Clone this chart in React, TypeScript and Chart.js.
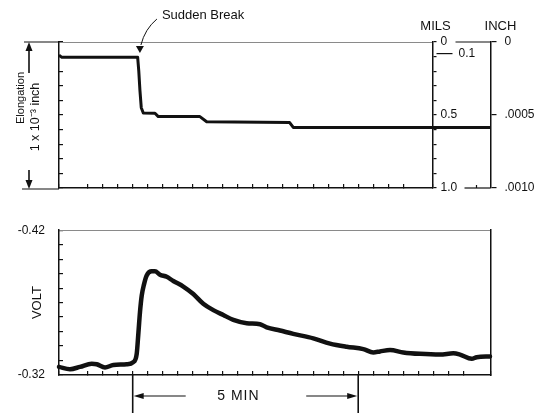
import React, { useEffect, useRef } from 'react';
import { Chart, registerables } from 'chart.js';

Chart.register(...registerables);

// ---- Data (time in minutes, 0 = start of the 5 MIN marker) ----
const elongTime = [-1.634, -1.57, 0.11, 0.135, 0.16, 0.19, 0.235, 0.494, 0.568, 1.49, 1.64, 3.48, 3.56, 7.937];
const elongMils = [0.09, 0.105, 0.105, 0.2, 0.33, 0.45, 0.486, 0.488, 0.511, 0.511, 0.546, 0.552, 0.585, 0.585];

const voltTime = [
  -1.634, -1.39, -1.169, -0.909, -0.798, -0.614, -0.43, -0.133, 0.013, 0.089, 0.124, 0.162, 0.2, 0.251,
  0.31, 0.421, 0.494, 0.605, 0.754, 0.9, 1.122, 1.344, 1.565, 1.787, 2.009, 2.231, 2.528, 2.823, 2.971,
  3.266, 3.561, 4.004, 4.375, 4.745, 5.113, 5.335, 5.483, 5.705, 6.0, 6.37, 6.814, 7.109, 7.257, 7.517,
  7.627, 7.922,
];
const voltValue = [
  -0.3256, -0.324, -0.3256, -0.3278, -0.3274, -0.3252, -0.3269, -0.3274, -0.3289, -0.3346, -0.348,
  -0.3636, -0.3748, -0.3826, -0.3887, -0.3916, -0.3916, -0.3893, -0.3878, -0.3849, -0.3811, -0.3759,
  -0.3692, -0.3648, -0.3614, -0.3581, -0.3558, -0.3551, -0.3529, -0.3507, -0.3484, -0.3453, -0.3417,
  -0.3395, -0.3379, -0.3356, -0.3363, -0.3372, -0.3356, -0.3346, -0.3341, -0.335, -0.3341, -0.3312,
  -0.3323, -0.3328,
];

const milsTickValues = [0, 0.5, 1];
const milsTickLabels = ['0', '0.5', '1.0'];
const inchTickValues = [0, 0.0005, 0.001];
const inchTickLabels = ['0', '.0005', '.0010'];
const voltTickValues = [-0.42, -0.32];
const voltTickLabels = ['-0.42', '-0.32'];

const TIME_MIN = -1.634;
const TOP_TIME_MAX = 6.647;
const BOTTOM_TIME_MAX = 7.933;
const SUDDEN_BREAK_T = 0.16;
const MARK_START = 0;
const MARK_SPAN = 5;

const FONT = "'Liberation Sans', Arial, Helvetica, sans-serif";
const INK = '#111';
const FAINT = '#8a8a8a';

function labelFor(values: number[], labels: string[], v: number, tol: number) {
  const k = values.findIndex((m) => Math.abs(m - v) < tol);
  return k >= 0 ? labels[k] : '';
}

function seg(ctx: CanvasRenderingContext2D, x1: number, y1: number, x2: number, y2: number) {
  ctx.beginPath();
  ctx.moveTo(x1, y1);
  ctx.lineTo(x2, y2);
  ctx.stroke();
}

function head(ctx: CanvasRenderingContext2D, tx: number, ty: number, dir: 'up' | 'down' | 'left' | 'right', len = 9, half = 3.2) {
  ctx.beginPath();
  ctx.moveTo(tx, ty);
  if (dir === 'up') { ctx.lineTo(tx - half, ty + len); ctx.lineTo(tx + half, ty + len); }
  if (dir === 'down') { ctx.lineTo(tx - half, ty - len); ctx.lineTo(tx + half, ty - len); }
  if (dir === 'left') { ctx.lineTo(tx + len, ty - half); ctx.lineTo(tx + len, ty + half); }
  if (dir === 'right') { ctx.lineTo(tx - len, ty - half); ctx.lineTo(tx - len, ty + half); }
  ctx.closePath();
  ctx.fill();
}

const topAnnotations = {
  id: 'topAnnotations',
  afterDraw(chart: any) {
    const ctx: CanvasRenderingContext2D = chart.ctx;
    const ca = chart.chartArea;
    const xs = chart.scales.x;
    const ym = chart.scales.ym;
    const yi = chart.scales.yi;
    ctx.save();
    ctx.strokeStyle = INK;
    ctx.fillStyle = INK;
    ctx.lineWidth = 1.2;

    // axis headers
    ctx.font = `13px ${FONT}`;
    ctx.textAlign = 'center';
    ctx.textBaseline = 'middle';
    ctx.fillText('MILS', ym.left + 3, ca.top - 16);
    ctx.fillText('INCH', yi.left + 10, ca.top - 16);

    // 0.1 leader label
    const y01 = ym.getPixelForValue(0.1) - 3;
    seg(ctx, ym.left + 4, y01, ym.left + 20, y01);
    ctx.font = `12px ${FONT}`;
    ctx.textAlign = 'left';
    ctx.fillText('0.1', ym.left + 26, y01);

    // connecting lines between the two scales
    seg(ctx, ym.left + 23, ca.top, yi.left, ca.top);
    seg(ctx, ym.left + 32, ca.bottom, yi.left, ca.bottom);
    seg(ctx, ym.left + 44, ca.bottom, ym.left + 44, ca.bottom - 3);

    // Sudden Break
    const bx = xs.getPixelForValue(SUDDEN_BREAK_T);
    ctx.font = `13px ${FONT}`;
    ctx.textAlign = 'left';
    ctx.fillText('Sudden Break', bx + 22, ca.top - 27);
    ctx.lineWidth = 1;
    ctx.beginPath();
    ctx.moveTo(bx + 17, ca.top - 23);
    ctx.quadraticCurveTo(bx + 5, ca.top - 13, bx + 1, ca.top + 3);
    ctx.stroke();
    head(ctx, bx, ca.top + 11, 'down', 7, 4);

    // left dimension arrows
    ctx.lineWidth = 1.2;
    const ax = 29;
    seg(ctx, 24, ca.top, ca.left, ca.top);
    seg(ctx, 22, ca.bottom + 1, ca.left, ca.bottom + 1);
    ctx.lineWidth = 1.6;
    seg(ctx, ax, ca.top + 31, ax, ca.top + 6);
    head(ctx, ax, ca.top, 'up', 9, 3.5);
    seg(ctx, ax, ca.bottom - 18, ax, ca.bottom - 6);
    head(ctx, ax, ca.bottom + 1, 'down', 9, 3.5);

    // rotated axis description
    ctx.textAlign = 'center';
    ctx.save();
    ctx.translate(21, ca.top + 56);
    ctx.rotate(-Math.PI / 2);
    ctx.font = `11px ${FONT}`;
    ctx.fillText('Elongation', 0, 0);
    ctx.restore();
    ctx.save();
    ctx.translate(36, ca.top + 75);
    ctx.rotate(-Math.PI / 2);
    ctx.font = `12.5px ${FONT}`;
    ctx.fillText('1 x 10⁻³ inch', 0, 0);
    ctx.restore();

    ctx.restore();
  },
};

const bottomAnnotations = {
  id: 'bottomAnnotations',
  afterDraw(chart: any) {
    const ctx: CanvasRenderingContext2D = chart.ctx;
    const ca = chart.chartArea;
    const xs = chart.scales.x;
    const x0 = xs.getPixelForValue(MARK_START);
    const x1 = xs.getPixelForValue(MARK_START + MARK_SPAN);
    ctx.save();
    ctx.strokeStyle = INK;
    ctx.fillStyle = INK;
    ctx.lineWidth = 1.6;
    seg(ctx, x0, ca.bottom, x0, chart.height);
    seg(ctx, x1, ca.bottom, x1, chart.height);
    const ay = ca.bottom + 21;
    ctx.lineWidth = 1.2;
    seg(ctx, x0 + 4, ay, x0 + 53, ay);
    head(ctx, x0 + 1, ay, 'left', 10, 3);
    seg(ctx, x1 - 52, ay, x1 - 4, ay);
    head(ctx, x1 - 1, ay, 'right', 10, 3);
    ctx.font = `14px ${FONT}`;
    (ctx as any).letterSpacing = '1px';
    ctx.textAlign = 'center';
    ctx.textBaseline = 'middle';
    ctx.fillText('5 MIN', (x0 + x1) / 2 - 7, ay);
    ctx.restore();
  },
};

function innerTicks(len: number) {
  return { drawOnChartArea: false, tickLength: len, color: INK, lineWidth: 1.2 };
}

function makeTopConfig(): any {
  return {
    type: 'line',
    data: {
      datasets: [
        {
          data: elongTime.map((t, i) => ({ x: t, y: elongMils[i] })),
          borderColor: INK,
          borderWidth: 3,
          pointRadius: 0,
          tension: 0,
          clip: false,
          xAxisID: 'x',
          yAxisID: 'y',
          borderJoinStyle: 'round',
        },
      ],
    },
    options: {
      responsive: false,
      animation: false,
      events: [],
      layout: { padding: { left: 0, top: 42, right: 0, bottom: 17 } },
      plugins: { legend: { display: false }, tooltip: { enabled: false } },
      scales: {
        x: {
          type: 'linear', position: 'bottom', min: TIME_MIN, max: TOP_TIME_MAX,
          ticks: { display: false, stepSize: 1 / 3, autoSkip: false },
          grid: innerTicks(-4),
          border: { color: INK, width: 1.5 },
          afterFit: (s: any) => { s.height = 0; },
        },
        xt: {
          type: 'linear', position: 'top', min: TIME_MIN, max: TOP_TIME_MAX,
          ticks: { display: false },
          grid: { drawOnChartArea: false, drawTicks: false },
          border: { color: FAINT, width: 1, dash: [8, 3] },
          afterFit: (s: any) => { s.height = 0; },
        },
        y: {
          type: 'linear', position: 'left', min: 0, max: 1, reverse: true,
          ticks: { display: false, stepSize: 0.1, autoSkip: false },
          grid: innerTicks(-4),
          border: { color: INK, width: 1.5 },
          afterFit: (s: any) => { s.width = 59; },
        },
        ym: {
          type: 'linear', position: 'right', min: 0, max: 1, reverse: true, weight: 0,
          ticks: {
            stepSize: 0.1, autoSkip: false, padding: 4, color: INK, font: { family: FONT, size: 12 },
            callback: (v: number) => labelFor(milsTickValues, milsTickLabels, v, 1e-6),
          },
          grid: { drawOnChartArea: false, tickLength: 4, color: INK, lineWidth: 1.2 },
          border: { color: INK, width: 1.5 },
          afterFit: (s: any) => { s.width = 58; },
        },
        yi: {
          type: 'linear', position: 'right', min: 0, max: 0.001, reverse: true, weight: 1,
          ticks: {
            stepSize: 0.0005, autoSkip: false, padding: 8, color: INK, font: { family: FONT, size: 12 },
            callback: (v: number) => labelFor(inchTickValues, inchTickLabels, v, 1e-9),
          },
          grid: { drawOnChartArea: false, tickLength: 6, color: INK, lineWidth: 1.2 },
          border: { color: INK, width: 1.5 },
          afterFit: (s: any) => { s.width = 62.5; },
        },
      },
    },
    plugins: [topAnnotations],
  };
}

function makeBottomConfig(): any {
  return {
    type: 'line',
    data: {
      datasets: [
        {
          data: voltTime.map((t, i) => ({ x: t, y: voltValue[i] })),
          borderColor: INK,
          borderWidth: 4.5,
          pointRadius: 0,
          tension: 0.4,
          cubicInterpolationMode: 'monotone',
          borderCapStyle: 'round',
          borderJoinStyle: 'round',
          clip: 4,
        },
      ],
    },
    options: {
      responsive: false,
      animation: false,
      events: [],
      layout: { padding: { left: 0, top: 21, right: 0, bottom: 38 } },
      plugins: { legend: { display: false }, tooltip: { enabled: false } },
      scales: {
        x: {
          type: 'linear', position: 'bottom', min: TIME_MIN, max: BOTTOM_TIME_MAX,
          ticks: { display: false, stepSize: 1 / 3, autoSkip: false },
          grid: innerTicks(-4),
          border: { color: INK, width: 1.5 },
          afterFit: (s: any) => { s.height = 0; },
        },
        xt: {
          type: 'linear', position: 'top', min: TIME_MIN, max: BOTTOM_TIME_MAX,
          ticks: { display: false },
          grid: { drawOnChartArea: false, drawTicks: false },
          border: { color: FAINT, width: 1, dash: [8, 3] },
          afterFit: (s: any) => { s.height = 0; },
        },
        y: {
          type: 'linear', position: 'left', min: -0.42, max: -0.32, reverse: true,
          ticks: {
            stepSize: 0.01, autoSkip: false, padding: 18, color: INK, font: { family: FONT, size: 12 },
            callback: (v: number) => labelFor(voltTickValues, voltTickLabels, v, 1e-6),
          },
          grid: innerTicks(-4),
          border: { color: INK, width: 1.5 },
          title: {
            display: true, text: 'VOLT', color: INK, font: { family: FONT, size: 13 },
            padding: { top: 30, bottom: 0 },
          },
          afterFit: (s: any) => { s.width = 59; },
        },
        yr: {
          type: 'linear', position: 'right', min: -0.42, max: -0.32,
          ticks: { display: false },
          grid: { drawOnChartArea: false, drawTicks: false },
          border: { color: INK, width: 1.5 },
          afterFit: (s: any) => { s.width = 62.5; },
        },
      },
    },
    plugins: [bottomAnnotations],
  };
}

export default function App() {
  const topRef = useRef<HTMLCanvasElement>(null);
  const bottomRef = useRef<HTMLCanvasElement>(null);

  useEffect(() => {
    const charts: Chart[] = [];
    if (topRef.current) charts.push(new Chart(topRef.current, makeTopConfig()));
    if (bottomRef.current) charts.push(new Chart(bottomRef.current, makeBottomConfig()));
    return () => charts.forEach((c) => c.destroy());
  }, []);

  return (
    <div style={{ position: 'absolute', left: 0, top: 0, width: 553, height: 413, background: '#fff' }}>
      <canvas
        ref={topRef}
        width={553}
        height={205}
        style={{ position: 'absolute', left: 0, top: 0, width: 553, height: 205, display: 'block' }}
      />
      <canvas
        ref={bottomRef}
        width={553}
        height={208}
        style={{ position: 'absolute', left: 0, top: 205, width: 553, height: 208, display: 'block' }}
      />
    </div>
  );
}
